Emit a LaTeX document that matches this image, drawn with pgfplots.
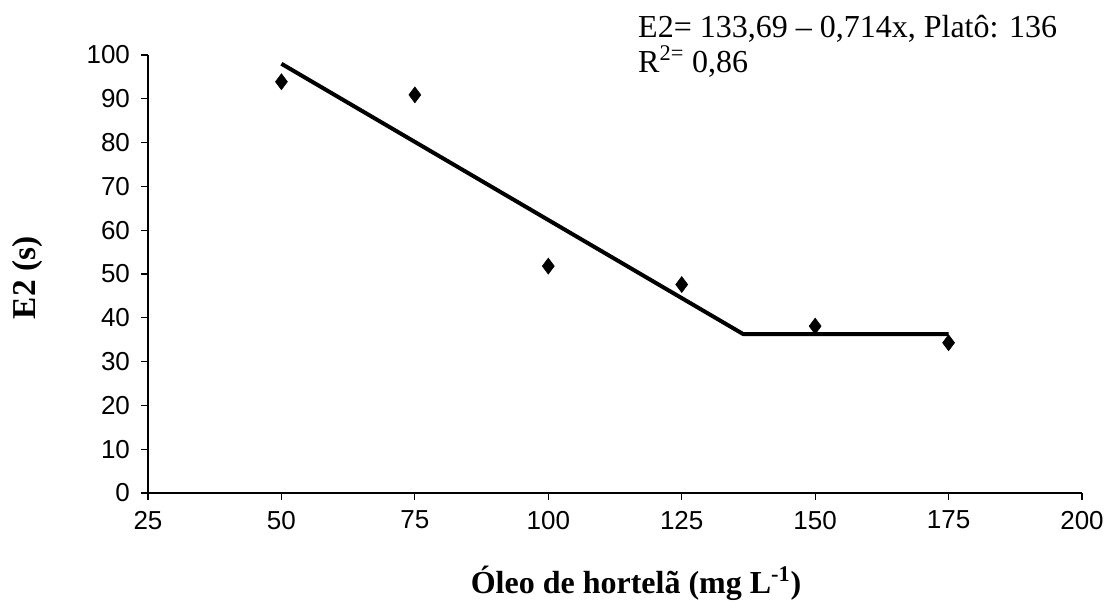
\documentclass[border=0pt]{standalone}
\usepackage{pgfplots}
\pgfplotsset{compat=1.18}
\usepackage{fontspec}
\setmainfont{Liberation Serif}
\newfontfamily\arialf{Liberation Sans}
\begin{document}
\begin{tikzpicture}
\useasboundingbox (-111pt,-86.25pt) rectangle (723pt,369.75pt);
\begin{axis}[
  scale only axis,
  width=700.5pt, height=328.5pt,
  at={(0,0)}, anchor=origin,
  xmin=25, xmax=200, ymin=0, ymax=100,
  xtick={25,50,...,200}, ytick={0,10,...,100},
  axis lines=left,
  axis line style={-, line width=0.8pt},
  tick style={line width=0.8pt, black},
  tick align=outside,
  major tick length=5pt,
  /pgf/number format/assume math mode=true,
  ticklabel style={font=\arialf\fontsize{19.5}{21}\selectfont},
  xticklabel style={yshift=-5pt},
  yticklabel style={xshift=-5pt},
  clip=false,
]
\addplot[only marks, mark=diamond*, mark size=6pt, black] coordinates {
  (50,93.9) (75,90.9) (100,51.8) (125,47.6) (150,38.1) (175,34.3)
};
\addplot[black, line width=3pt, line join=round] coordinates {
  (50,98.0) (136.5,36.3) (175,36.3)
};
\node[anchor=base west, font=\fontsize{24}{26}\selectfont, inner sep=0pt] at (axis description cs:0.5246,1.041) {E2= 133,69 – 0,714x, Platô: 136};
\node[anchor=base west, font=\fontsize{24}{26}\selectfont, inner sep=0pt] at (axis description cs:0.5246,0.961) {R\textsuperscript{2=} 0,86};
\node[rotate=90, font=\bfseries\fontsize{25}{27}\selectfont] at (axis description cs:-0.1285,0.491) {E2 (s)};
\node[font=\bfseries\fontsize{24}{26}\selectfont] at (axis description cs:0.5225,-0.2055) {Óleo de hortelã (mg L\textsuperscript{-1})};
\end{axis}
\end{tikzpicture}
\end{document}
